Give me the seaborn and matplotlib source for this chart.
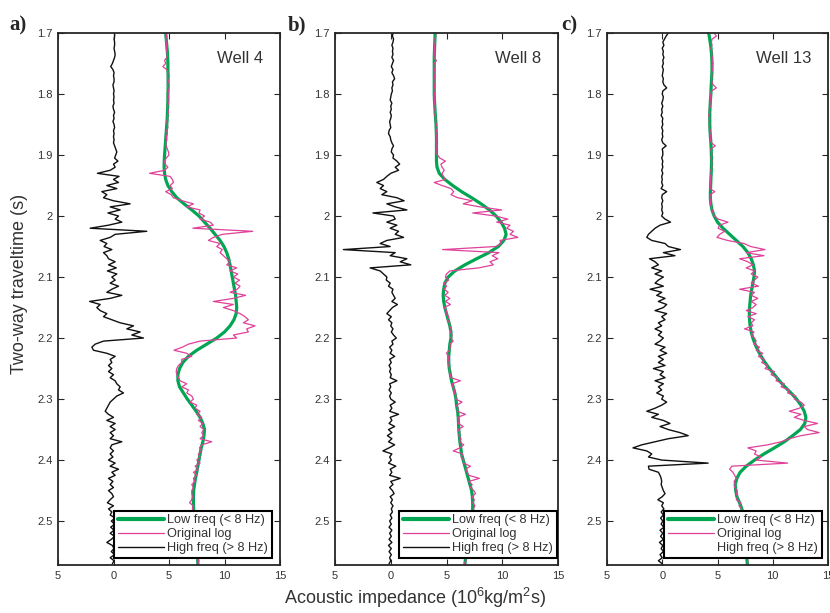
import numpy as np
import pandas as pd
import matplotlib
matplotlib.use("Agg")
import matplotlib.pyplot as plt
import seaborn as sns

# ---------------------------------------------------------------- data
t_start = 1.70
dt_log = 0.005   # sampling of the original log and its high-frequency part
dt_low = 0.01    # sampling of the low-pass trend

wells = ["Well 4", "Well 8", "Well 13"]
panel_tags = ["a)", "b)", "c)"]

well4_original = [
    4.7, 4.8, 4.7, 4.75, 4.8, 4.75, 4.8, 4.85, 4.8, 4.6,
    4.7, 4.45, 4.8, 4.9, 4.85, 4.9, 4.95, 4.85, 4.9, 4.95,
    4.9, 4.95, 4.9, 4.95, 4.85, 4.9, 4.95, 4.85, 4.9, 4.8,
    4.85, 4.9, 4.8, 4.85, 4.75, 4.8, 4.7, 4.75, 4.85, 4.95,
    5.0, 4.75, 4.6, 4.65, 4.9, 4.6, 3.25, 5.1, 5.3, 5.4,
    5.1, 5.3, 4.7, 5.2, 5.4, 6.2, 7.2, 6.6, 7.8, 7.7,
    8.2, 7.8, 8.7, 9.0, 7.15, 12.55, 9.8, 9.0, 8.55, 9.6,
    9.3, 9.8, 9.6, 9.9, 10.2, 10.5, 10.2, 11.1, 10.5, 11.2,
    10.8, 11.35, 10.95, 11.4, 11.15, 10.5, 11.9, 10.8, 9.0, 10.8,
    9.9, 10.8, 11.4, 11.85, 12.15, 11.7, 12.75, 12.0, 12.15, 10.8,
    11.1, 7.8, 6.75, 6.2, 5.45, 6.6, 7.05, 6.15, 6.15, 5.85,
    5.7, 5.65, 5.7, 5.85, 6.0, 6.6, 6.15, 6.75, 6.6, 7.05,
    7.2, 6.9, 7.5, 7.35, 7.8, 7.5, 7.95, 7.65, 8.05, 7.8,
    8.15, 7.95, 8.1, 7.8, 8.85, 7.95, 7.75, 7.95, 7.65, 7.8,
    7.5, 7.8, 7.35, 7.65, 7.2, 7.5, 7.2, 7.35, 7.05, 7.2,
    7.05, 7.05, 7.1, 7.05, 6.85, 7.2, 7.1, 7.3, 7.2, 7.4,
    7.3, 7.5, 7.35, 7.45, 7.3, 7.55, 7.4, 7.5, 7.45, 7.6,
    7.5, 7.65, 7.55, 7.7, 7.6,
]
well4_low = [
    4.7, 4.75, 4.8, 4.85, 4.88, 4.9, 4.9, 4.92, 4.92, 4.92,
    4.9, 4.9, 4.88, 4.86, 4.84, 4.8, 4.76, 4.72, 4.68, 4.64,
    4.6, 4.57, 4.56, 4.6, 4.7, 4.9, 5.25, 5.7, 6.35, 7.05,
    7.7, 8.2, 8.7, 9.15, 9.6, 9.95, 10.2, 10.38, 10.5, 10.6,
    10.7, 10.8, 10.9, 11.0, 11.05, 11.1, 11.05, 10.85, 10.5, 10.0,
    9.3, 8.4, 7.5, 6.75, 6.25, 5.95, 5.8, 5.8, 5.95, 6.3,
    6.65, 7.05, 7.45, 7.8, 8.05, 8.2, 8.15, 8.05, 7.9, 7.8,
    7.7, 7.6, 7.5, 7.38, 7.3, 7.22, 7.2, 7.2, 7.22, 7.25,
    7.3, 7.35, 7.4, 7.45, 7.5, 7.55, 7.58, 7.6,
]
well4_high = [
    0.1, 0.1, 0.05, 0.1, 0.1, 0.05, 0.1, 0.15, 0.1, 0.0,
    -0.1, -0.25, -0.05, 0.05, 0.0, 0.05, 0.05, -0.05, 0.0, 0.05,
    0.0, 0.05, 0.0, 0.05, -0.05, 0.0, 0.1, 0.0, 0.05, -0.05,
    0.05, 0.1, 0.0, 0.05, 0.0, 0.05, 0.0, 0.1, 0.2, 0.3,
    0.2, 0.1, 0.4, 0.0, 0.15, -0.3, -1.45, 0.5, 0.0, 0.45,
    -0.6, 0.3, -1.05, -0.6, -0.9, 0.0, 1.5, -0.3, 0.6, -0.5,
    0.45, 0.15, 0.75, -0.45, -2.1, 3.0, 0.15, -0.3, -1.2, -0.6,
    -0.85, -0.15, -0.9, -0.6, -0.45, 0.15, -0.45, 0.25, -0.55, 0.3,
    -0.15, 0.15, -0.3, 0.45, -0.15, -0.6, 0.75, -0.3, -2.15, -1.2,
    -1.5, -1.2, -0.6, -0.9, -0.15, 0.6, 1.8, 1.2, 2.4, 1.65,
    2.7, -0.9, -1.65, -1.95, -1.8, -0.6, 0.15, -0.3, -0.15, -0.45,
    -0.15, -0.45, 0.0, -0.3, 0.15, 0.3, 0.6, 0.45, 0.9, 0.3,
    0.0, -0.3, -0.45, -0.6, -0.75, -0.45, 0.0, -0.6, 0.15, -0.3,
    0.15, -0.3, 0.0, -0.3, 0.75, -0.15, -0.3, 0.0, -0.3, -0.05,
    -0.45, 0.15, -0.3, 0.45, -0.15, 0.15, -0.45, -0.05, -0.3, 0.0,
    -0.45, -0.15, 0.0, -0.3, -0.55, 0.0, -0.45, -0.15, -0.3, 0.15,
    -0.2, 0.1, -0.25, 0.05, -0.3, 0.1, -0.2, -0.6, -0.1, 0.05,
    -0.2, 0.1, -0.3, 0.05, -0.1,
]

well8_original = [
    4.0, 4.05, 3.95, 4.0, 3.9, 3.95, 3.9, 3.95, 3.85, 4.1,
    3.9, 3.85, 3.95, 3.85, 3.95, 3.9, 3.85, 3.95, 3.9, 3.85,
    3.95, 3.9, 3.95, 3.9, 4.0, 3.95, 4.0, 3.95, 4.05, 4.0,
    4.1, 4.0, 4.1, 4.05, 4.15, 4.1, 4.05, 4.15, 4.1, 4.05,
    4.2, 4.4, 4.9, 4.5, 4.6, 4.8, 4.6, 4.7, 4.9, 3.9,
    4.6, 5.4, 5.65, 5.4, 6.0, 7.3, 6.5, 8.0, 9.95, 7.35,
    9.4, 10.5, 9.5, 10.7, 10.4, 11.0, 10.7, 11.4, 9.8, 9.9,
    9.4, 4.65, 9.7, 9.1, 9.6, 8.9, 9.2, 7.9, 5.3, 5.0,
    4.9, 5.2, 4.75, 5.0, 4.8, 5.15, 4.85, 5.3, 4.9, 5.35,
    4.8, 5.0, 4.95, 5.2, 5.05, 5.3, 5.25, 5.45, 5.35, 5.5,
    5.4, 5.6, 5.3, 5.35, 5.25, 5.0, 5.2, 5.15, 5.25, 5.2,
    5.3, 5.25, 5.35, 5.4, 6.25, 5.5, 5.55, 5.75, 5.7, 5.85,
    5.8, 6.4, 5.9, 6.05, 5.95, 6.7, 6.0, 6.15, 6.05, 6.5,
    6.05, 6.2, 6.1, 6.3, 6.15, 6.55, 6.2, 5.6, 6.45, 6.3,
    6.55, 6.5, 7.15, 6.7, 6.85, 7.0, 7.95, 7.0, 7.3, 7.15,
    7.45, 7.6, 7.3, 7.5, 7.35, 7.55, 7.4, 7.5, 7.3, 7.4,
    7.2, 7.3, 7.15, 7.25, 7.05, 7.15, 6.95, 7.05, 6.85, 6.95,
    6.75, 6.85, 6.7, 6.75, 6.6,
]
well8_low = [
    3.98, 3.96, 3.94, 3.92, 3.9, 3.9, 3.9, 3.9, 3.9, 3.9,
    3.9, 3.92, 3.95, 3.98, 4.02, 4.06, 4.08, 4.1, 4.1, 4.1,
    4.1, 4.1, 4.15, 4.35, 4.85, 5.55, 6.35, 7.25, 8.1, 8.85,
    9.45, 9.9, 10.2, 10.35, 10.15, 9.65, 8.8, 7.7, 6.65, 5.75,
    5.15, 4.85, 4.75, 4.7, 4.75, 4.85, 5.0, 5.15, 5.3, 5.4,
    5.4, 5.3, 5.25, 5.2, 5.2, 5.25, 5.35, 5.45, 5.6, 5.75,
    5.85, 5.9, 6.0, 6.05, 6.08, 6.1, 6.15, 6.2, 6.28, 6.35,
    6.5, 6.65, 6.8, 6.95, 7.1, 7.25, 7.32, 7.35, 7.35, 7.3,
    7.25, 7.2, 7.1, 7.0, 6.9, 6.8, 6.72, 6.65,
]
well8_high = [
    0.2, 0.15, 0.25, 0.2, 0.1, 0.2, 0.15, 0.2, 0.1, 0.25,
    0.15, 0.05, 0.2, 0.1, 0.25, 0.35, 0.15, 0.2, 0.1, 0.15,
    0.05, 0.0, -0.05, 0.1, 0.0, 0.05, -0.05, 0.05, 0.0, -0.1,
    -0.05, 0.0, -0.15, -0.2, -0.05, 0.0, 0.1, 0.25, 0.1, 0.05,
    0.25, 0.2, 0.55, 0.8, 0.4, 0.7, 0.0, -0.35, -0.65, -1.25,
    -0.65, -0.95, -0.35, -0.8, 0.55, 1.2, -0.35, 0.4, 1.45, -1.6,
    0.25, 0.4, -0.35, 0.55, -0.05, 0.7, 0.4, 1.15, -0.35, -0.95,
    -0.05, -4.25, 0.4, -0.05, 1.45, 0.85, 1.8, -1.85, -0.95, -0.65,
    -0.35, -0.4, -0.05, -0.2, 0.2, 0.1, 0.25, 0.4, 0.1, 0.6,
    0.15, -0.1, -0.35, 0.05, -0.2, 0.1, 0.0, 0.2, 0.05, 0.25,
    0.5, 0.1, 0.2, -0.1, 0.1, -0.05, 0.35, -0.1, 0.05, -0.15,
    0.0, -0.1, 0.05, -0.05, 0.55, -0.1, 0.0, -0.15, 0.05, -0.1,
    0.0, 0.4, -0.05, 0.1, -0.1, 0.7, -0.05, 0.1, -0.15, 0.35,
    -0.2, 0.1, -0.3, 0.1, -0.2, 0.35, -0.15, -0.7, 0.1, -0.1,
    0.05, -0.2, 0.45, -0.05, 0.1, -0.1, 0.85, 0.0, 0.2, -0.1,
    0.15, 0.3, -0.05, 0.15, 0.0, 0.2, 0.05, 0.15, -0.05, 0.1,
    -0.1, 0.05, -0.15, 0.1, -0.1, 0.05, -0.15, 0.1, -0.2, 0.05,
    -0.15, 0.05, -0.1, 0.0, -0.15,
]

well13_original = [
    4.7, 4.9, 4.5, 4.45, 4.5, 4.4, 4.5, 4.45, 4.55, 4.5,
    4.6, 4.5, 4.55, 4.45, 4.5, 4.45, 4.5, 4.6, 4.9, 4.45,
    4.4, 4.35, 4.4, 4.3, 4.35, 4.25, 4.3, 4.2, 4.3, 4.25,
    4.3, 4.25, 4.35, 4.3, 4.4, 4.35, 4.45, 4.8, 4.4, 4.45,
    4.5, 4.4, 4.5, 4.45, 4.5, 4.4, 4.45, 4.35, 4.4, 4.35,
    4.4, 4.3, 4.75, 4.35, 4.3, 4.4, 4.35, 4.45, 4.5, 4.6,
    4.7, 5.05, 5.95, 5.2, 5.05, 5.65, 5.2, 4.95, 5.9, 7.4,
    8.0, 9.3, 7.6, 9.2, 7.0, 7.75, 8.2, 7.6, 8.35, 8.05,
    8.65, 8.35, 8.05, 8.7, 7.0, 8.35, 8.05, 8.65, 8.05, 8.5,
    8.2, 7.6, 8.5, 7.75, 8.35, 8.05, 8.2, 7.45, 8.3, 8.05,
    8.35, 8.5, 8.3, 8.8, 8.5, 9.1, 8.7, 9.25, 9.0, 9.55,
    9.3, 10.15, 9.85, 10.45, 10.3, 11.05, 10.75, 11.5, 11.35, 12.1,
    11.95, 12.55, 12.85, 12.4, 11.5, 12.55, 11.95, 12.85, 14.05, 12.85,
    13.15, 14.2, 12.55, 11.5, 10.75, 9.55, 7.75, 8.5, 8.35, 8.95,
    8.5, 11.35, 6.3, 6.1, 6.4, 6.55, 6.7, 6.5, 6.6, 6.55,
    6.8, 6.7, 6.85, 6.7, 7.1, 6.95, 7.2, 7.1, 7.35, 7.25,
    7.5, 7.4, 7.55, 7.45, 7.6, 7.5, 7.65, 7.5, 7.6, 7.55,
    7.7, 7.6, 7.7, 7.75, 7.7,
]
well13_low = [
    4.2, 4.3, 4.38, 4.44, 4.48, 4.5, 4.5, 4.48, 4.45, 4.42,
    4.4, 4.36, 4.33, 4.3, 4.3, 4.3, 4.32, 4.36, 4.4, 4.43,
    4.45, 4.46, 4.45, 4.43, 4.4, 4.38, 4.36, 4.35, 4.4, 4.5,
    4.7, 5.0, 5.5, 6.1, 6.7, 7.3, 7.75, 8.05, 8.25, 8.35,
    8.3, 8.2, 8.1, 8.0, 7.95, 7.9, 7.88, 7.9, 7.95, 8.05,
    8.2, 8.4, 8.65, 8.95, 9.3, 9.7, 10.15, 10.6, 11.1, 11.65,
    12.15, 12.55, 12.85, 13.0, 12.9, 12.5, 11.8, 11.05, 10.15, 9.2,
    8.35, 7.6, 7.05, 6.75, 6.6, 6.65, 6.75, 7.0, 7.2, 7.35,
    7.45, 7.5, 7.55, 7.58, 7.6, 7.62, 7.65, 7.7,
]
well13_high = [
    0.55, 0.35, 0.2, 0.05, 0.15, 0.0, 0.1, 0.05, 0.15, 0.05,
    0.1, 0.0, 0.1, 0.05, 0.0, 0.1, 0.05, 0.15, 0.4, 0.05,
    0.0, 0.1, 0.05, -0.05, 0.05, -0.05, 0.0, -0.1, 0.05, 0.0,
    0.05, -0.05, 0.05, 0.0, 0.05, -0.05, 0.05, 0.35, 0.0, 0.05,
    0.05, -0.05, 0.05, 0.0, 0.05, -0.05, 0.05, -0.05, 0.0, -0.05,
    0.05, -0.1, 0.4, 0.0, -0.05, 0.05, -0.05, 0.0, -0.05, 0.05,
    -0.05, 0.25, 0.75, -0.2, -0.65, -0.95, -1.25, -1.4, -0.95, 0.25,
    0.55, 1.65, 0.1, 1.15, -1.15, -0.65, -0.35, -0.95, -0.05, -0.65,
    0.1, -0.35, -0.65, 0.1, -1.1, -0.05, -0.5, 0.25, -0.35, 0.4,
    0.1, -0.65, 0.4, -0.05, 0.25, -0.35, -0.05, -0.65, -0.05, -0.35,
    0.1, -0.2, -0.65, 0.25, -0.2, 0.4, -0.35, 0.1, -0.35, 0.25,
    -0.8, 0.1, -0.2, 0.25, -0.65, 0.1, -0.35, -0.05, -0.5, 0.1,
    -0.05, 0.4, -0.05, -0.65, -1.4, -0.35, -0.95, 0.1, 0.7, -0.2,
    0.55, 1.6, 2.35, 0.55, -0.65, -1.85, -2.65, -1.4, -0.95, -1.25,
    -0.05, 4.15, -1.25, -1.2, -0.35, -0.2, -0.1, -0.05, -0.1, 0.0,
    0.1, 0.25, 0.0, -0.4, 0.1, -0.05, 0.15, -0.1, 0.1, -0.15,
    0.05, -0.1, 0.15, -0.2, 0.05, -0.15, 0.1, -0.25, 0.05, -0.1,
    0.1, -0.2, 0.0, -0.35, 0.0,
]

x_ticks = [-5, 0, 5, 10, 15]
x_tick_labels = ["5", "0", "5", "10", "15"]
y_ticks = [1.7, 1.8, 1.9, 2.0, 2.1, 2.2, 2.3, 2.4, 2.5]
y_tick_labels = ["1.7", "1.8", "1.9", "2", "2.1", "2.2", "2.3", "2.4", "2.5"]
series_labels = ["Low freq (< 8 Hz)", "Original log", "High freq (> 8 Hz)"]

# ---------------------------------------------------------------- style
sns.set_style("ticks")
plt.rcParams["font.family"] = ["Liberation Sans", "DejaVu Sans"]
plt.rcParams["mathtext.fontset"] = "custom"
plt.rcParams["mathtext.rm"] = "Liberation Sans"

GREEN = "#00A651"
PINK = "#E0409A"
BLACK = "#111111"
AXIS = "#262626"
TEXT = "#333333"

fig = plt.figure(figsize=(8.30, 6.13), dpi=100)
W, H = 830.0, 613.0
ax_px = [(58, 280), (335, 558), (607, 828)]
top_px, bottom_px = 33, 565
legend_right_px = [272, 557, 822]
tag_x_px = [9, 288, 561]

logs = [
    (well4_low, well4_original, well4_high),
    (well8_low, well8_original, well8_high),
    (well13_low, well13_original, well13_high),
]

for i, (name, tag, (low, orig, high)) in enumerate(zip(wells, panel_tags, logs)):
    assert len(orig) == len(high) == 175 and len(low) == 88
    x0, x1 = ax_px[i]
    ax = fig.add_axes([x0 / W, 1 - bottom_px / H, (x1 - x0) / W, (bottom_px - top_px) / H])

    t_log = t_start + dt_log * np.arange(len(orig))
    t_low = t_start + dt_low * np.arange(len(low))
    df_low = pd.DataFrame({"ai": low, "t": t_low})
    df_log = pd.DataFrame({"ai": orig, "hf": high, "t": t_log})

    sns.lineplot(data=df_low, x="ai", y="t", orient="y", sort=False, estimator=None,
                 color=GREEN, lw=2.3, ax=ax, label=series_labels[0])
    sns.lineplot(data=df_log, x="ai", y="t", orient="y", sort=False, estimator=None,
                 color=PINK, lw=0.9, ax=ax, label=series_labels[1])
    sns.lineplot(data=df_log, x="hf", y="t", orient="y", sort=False, estimator=None,
                 color=BLACK, lw=1.0, ax=ax, label=series_labels[2])

    ax.set_xlim(-5, 15)
    ax.set_ylim(2.572, 1.7)
    ax.set_xticks(x_ticks)
    ax.set_xticklabels(x_tick_labels)
    ax.set_yticks(y_ticks)
    ax.set_yticklabels(y_tick_labels)
    ax.set_xlabel("")
    ax.set_ylabel("")
    ax.tick_params(direction="in", top=True, right=True, length=4, width=0.8,
                   color=AXIS, labelsize=8, labelcolor=TEXT, pad=4)
    for sp in ax.spines.values():
        sp.set_visible(True)
        sp.set_color(AXIS)
        sp.set_linewidth(1.3)

    ax.text(0.925, 0.953, name, transform=ax.transAxes, ha="right", va="center",
            fontsize=12, color=TEXT)

    leg = ax.legend(loc="lower right",
                    bbox_to_anchor=((legend_right_px[i] - x0) / (x1 - x0), 7 / (bottom_px - top_px)),
                    borderaxespad=0, fontsize=9.2, frameon=True, fancybox=False,
                    framealpha=1, edgecolor="black", handlelength=3.6,
                    handletextpad=0.25, labelspacing=0.15, borderpad=0.3)
    leg.get_frame().set_linewidth(1.5)
    for txt in leg.get_texts():
        txt.set_color(TEXT)
    leg_lines = leg.get_lines()
    leg_lines[0].set_linewidth(3.0)
    if i == 2:
        leg_lines[2].set_visible(False)

    fig.text(tag_x_px[i] / W, 1 - 30 / H, tag, fontsize=15, fontweight="bold",
             family=["Liberation Serif", "DejaVu Serif"], ha="left", va="baseline")

fig.text(20 / W, 1 - 284 / H, "Two-way traveltime (s)", rotation=90,
         ha="center", va="center", fontsize=13, color=TEXT)
fig.text(0.5, 1 - 598 / H, r"Acoustic impedance (10$^6$kg/m$^2$s)",
         ha="center", va="center", fontsize=13, color=TEXT)

fig.savefig("out.png", dpi=100)
